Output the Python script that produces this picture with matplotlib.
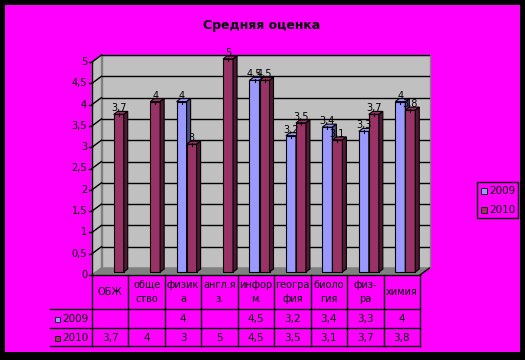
import matplotlib
matplotlib.use("Agg")
import matplotlib.pyplot as plt
from matplotlib.patches import Rectangle, Polygon
from matplotlib.lines import Line2D

# ---------------- data ----------------
title = "Средняя оценка"
categories = ["ОБЖ", "обще\nство", "физик\nа", "англ.я\nз.", "инфор\nм.",
              "геогра\nфия", "биоло\nгия", "физ-\nра", "химия"]
series_names = ["2009", "2010"]
values_2009 = [None, None, 4, None, 4.5, 3.2, 3.4, 3.3, 4]
values_2010 = [3.7, 4, 3, 5, 4.5, 3.5, 3.1, 3.7, 3.8]
yticks = [0, 0.5, 1, 1.5, 2, 2.5, 3, 3.5, 4, 4.5, 5]
colors = ["#9999FF", "#993366"]
side_colors = ["#4C4C80", "#4D1A33"]

def fmt(v):
    if v is None:
        return ""
    s = ("%g" % v)
    return s.replace(".", ",")

# ---------------- layout (pixels) ----------------
W, H = 525, 360
fig = plt.figure(figsize=(5.25, 3.6), dpi=100, facecolor="black")

def fx(px):
    return px / W

def fy(py):
    return 1 - py / H

fig.patches.append(Rectangle((fx(5), fy(352)), fx(520) - fx(5), fy(5) - fy(352),
                             transform=fig.transFigure, facecolor="#FF00FF",
                             edgecolor="none", zorder=-10))

AX_L, AX_R, AX_T, AX_B = 92, 420, 62, 275
ax = fig.add_axes([fx(AX_L), fy(AX_B), (AX_R - AX_L) / W, (AX_B - AX_T) / H])
n = len(categories)
ax.set_xlim(0, n)
ax.set_ylim(0, 5)
ax.patch.set_visible(False)
for s in ax.spines.values():
    s.set_visible(False)
ax.set_xticks([])
ax.set_yticks([])

sx = n / (AX_R - AX_L)   # data per px (x)
sy = 5 / (AX_B - AX_T)   # data per px (y)

# walls
dxw, dyw = 9.5 * sx, 7 * sy
ax.add_patch(Rectangle((dxw, dyw), n, 5, facecolor="#C0C0C0", edgecolor="#808080",
                       lw=1, clip_on=False, zorder=1))
ax.add_patch(Polygon([(0, 0), (dxw, dyw), (dxw, 5 + dyw), (0, 5)], closed=True,
                     facecolor="#C0C0C0", edgecolor="#808080", lw=1, clip_on=False, zorder=1))
ax.add_patch(Polygon([(0, 0), (n, 0), (n + dxw, dyw), (dxw, dyw)], closed=True,
                     facecolor="#808080", edgecolor="#808080", lw=1, clip_on=False, zorder=1))
for y in yticks[1:]:
    ax.add_line(Line2D([dxw, n + dxw], [y + dyw, y + dyw], color="black", lw=1,
                       clip_on=False, zorder=2))
    ax.add_line(Line2D([0, dxw], [y, y + dyw], color="black", lw=1, clip_on=False, zorder=2))

# y axis
ax.add_line(Line2D([0, 0], [0, 5], color="black", lw=1, clip_on=False, zorder=5))
for y in yticks:
    ax.add_line(Line2D([-3 * sx, 0], [y, y], color="black", lw=1, clip_on=False, zorder=5))
    ax.text(-5 * sx, y, fmt(y), ha="right", va="center", fontsize=7,
            family="DejaVu Sans", color="black")

# bars
bw = 10 * sx
ox = 3.5 * sx
b = 3 * sy
ddx, ddy = 4 * sx, 3 * sy
for i in range(n):
    for k, vals in enumerate([values_2009, values_2010]):
        v = vals[i]
        if v is None:
            continue
        x0 = i + 0.5 - bw + k * bw + ox
        z = 10 + i * 2 + k
        ax.add_patch(Rectangle((x0, b), bw, v, facecolor=colors[k], edgecolor="black",
                               lw=0.8, clip_on=False, zorder=z))
        ax.add_patch(Polygon([(x0, b + v), (x0 + bw, b + v), (x0 + bw + ddx, b + v + ddy),
                              (x0 + ddx, b + v + ddy)], closed=True, facecolor=colors[k],
                             edgecolor="black", lw=0.8, clip_on=False, zorder=z))
        ax.add_patch(Polygon([(x0 + bw, b), (x0 + bw + ddx, b + ddy),
                              (x0 + bw + ddx, b + v + ddy), (x0 + bw, b + v)], closed=True,
                             facecolor=side_colors[k], edgecolor="black", lw=0.8,
                             clip_on=False, zorder=z))
        cx = x0 + bw / 2
        ax.add_line(Line2D([cx, cx], [b + v - 2 * sy, b + v + 1 * sy], color="black",
                           lw=0.8, clip_on=False, zorder=40))
        ax.text(cx, b + v + 1 * sy, fmt(v), ha="center", va="bottom", fontsize=7,
                color="black", zorder=41)

# ---------------- data table ----------------
col_w = (AX_R - AX_L) / n
ROW_Y = [275, 309, 328, 346]
TL = 50

def fline(x1, x2, y1, y2):
    fig.add_artist(Line2D([fx(x1), fx(x2)], [fy(y1), fy(y2)], color="black", lw=1,
                          transform=fig.transFigure))

fline(AX_L, AX_R, 275, 275)
for y in ROW_Y[1:]:
    fline(TL, AX_R, y, y)
for i in range(n + 1):
    xp = AX_L + i * col_w
    fline(xp, xp, 275, 346)
# right 3D floor corner
fline(AX_R, AX_R + 9.5, 275, 268)

for i, c in enumerate(categories):
    xc = AX_L + (i + 0.5) * col_w
    fig.text(fx(xc), fy(292), c, ha="center", va="center", fontsize=7,
             linespacing=1.5, color="black")
    fig.text(fx(xc), fy(319), fmt(values_2009[i]), ha="center", va="center",
             fontsize=7.5, color="black")
    fig.text(fx(xc), fy(338), fmt(values_2010[i]), ha="center", va="center",
             fontsize=7.5, color="black")

for k, (name, yc) in enumerate(zip(series_names, [319, 338])):
    fig.patches.append(Rectangle((fx(55), fy(yc + 3)), 5 / W, 5 / H, facecolor=colors[k],
                                 edgecolor="black", lw=0.6, transform=fig.transFigure))
    fig.text(fx(62), fy(yc), name, ha="left", va="center", fontsize=7.5, color="black")

# ---------------- legend ----------------
fig.patches.append(Rectangle((fx(477), fy(218)), 41 / W, 36 / H, facecolor="none",
                             edgecolor="black", lw=1, transform=fig.transFigure))
for k, (name, yc) in enumerate(zip(series_names, [191, 210])):
    fig.patches.append(Rectangle((fx(481), fy(yc + 3)), 6 / W, 6 / H, facecolor=colors[k],
                                 edgecolor="black", lw=0.6, transform=fig.transFigure))
    fig.text(fx(489), fy(yc), name, ha="left", va="center", fontsize=7.5, color="black")

# ---------------- title ----------------
fig.text(fx(262), fy(26), title, ha="center", va="center", fontsize=9,
         fontweight="bold", color="black")

fig.savefig("out.png", dpi=100, facecolor="black")
